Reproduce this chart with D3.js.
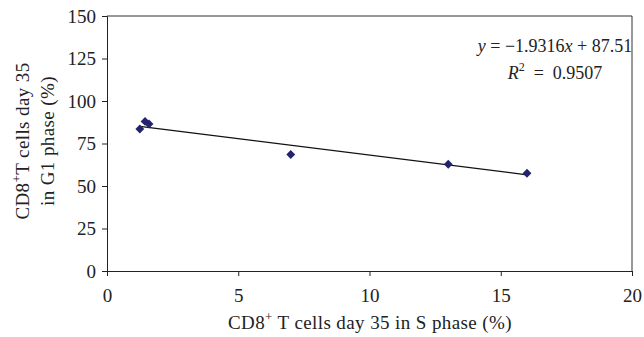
<!DOCTYPE html>
<html>
<head>
<meta charset="utf-8">
<script src="https://cdn.jsdelivr.net/npm/d3@7/dist/d3.min.js"></script>
<style>
  html, body { margin: 0; padding: 0; background: #fff; }
  svg { display: block; }
  text { font-family: "Liberation Serif", "DejaVu Serif", serif; fill: #222; }
</style>
</head>
<body>
<svg id="chart" width="644" height="337"></svg>
<script>
// S-phase share (x) and G1-phase share (y) of CD8+ T cells at day 35
const sPhase = [1.25, 1.45, 1.6, 7, 13, 16];
const g1Phase = [83.5, 88, 86.5, 68.5, 62.8, 57.5];
const xTicks = [0, 5, 10, 15, 20];
const yTicks = [0, 25, 50, 75, 100, 125, 150];
// Linear trend: y = slope * x + intercept
const slope = -1.9316;
const intercept = 87.51;
const rSquared = 0.9507;

const svg = d3.select("#chart");
const plot = { left: 107, right: 632, top: 16, bottom: 271 };
const fs = "19px";

const x = d3.scaleLinear().domain([0, 20]).range([plot.left, plot.right]);
const y = d3.scaleLinear().domain([0, 150]).range([plot.bottom, plot.top]);

// plot frame (top and right edges)
svg.append("path")
  .attr("d", `M${plot.left},${plot.top}H${plot.right}V${plot.bottom}`)
  .attr("fill", "none").attr("stroke", "#333").attr("stroke-width", 1);

const xAxis = svg.append("g").attr("transform", `translate(0,${plot.bottom})`)
  .call(d3.axisBottom(x).tickValues(xTicks).tickSize(5).tickPadding(13));
const yAxis = svg.append("g").attr("transform", `translate(${plot.left},0)`)
  .call(d3.axisLeft(y).tickValues(yTicks).tickSize(5).tickPadding(6));

[xAxis, yAxis].forEach(g => {
  g.selectAll("path, line").attr("stroke", "#222").attr("stroke-width", 1);
  g.selectAll("text").style("font-family", '"Liberation Serif", serif')
    .style("font-size", fs).attr("fill", "#222");
});

// trend line over the data range
const xMin = d3.min(sPhase), xMax = d3.max(sPhase);
svg.append("line")
  .attr("x1", x(xMin)).attr("y1", y(slope * xMin + intercept))
  .attr("x2", x(xMax)).attr("y2", y(slope * xMax + intercept))
  .attr("stroke", "#111").attr("stroke-width", 1.3);

// diamond markers
svg.append("g").selectAll("path")
  .data(sPhase.map((v, i) => [v, g1Phase[i]]))
  .join("path")
  .attr("transform", d => `translate(${x(d[0])},${y(d[1])})`)
  .attr("d", d3.symbol(d3.symbolDiamond2, 50))
  .attr("fill", "#23236e");

// regression annotation
const eqSize = "18px";
const eq = svg.append("text").attr("x", 555).attr("y", 52)
  .attr("text-anchor", "middle").style("font-size", eqSize);
eq.append("tspan").attr("font-style", "italic").text("y");
eq.append("tspan").text(" = \u22121.9316");
eq.append("tspan").attr("font-style", "italic").text("x");
eq.append("tspan").text(" + " + intercept.toFixed(2));

const r2 = svg.append("text").attr("x", 555).attr("y", 79)
  .attr("text-anchor", "middle").style("font-size", eqSize);
r2.append("tspan").attr("font-style", "italic").text("R");
r2.append("tspan").attr("dy", -8).style("font-size", "12px").text("2");
r2.append("tspan").attr("dy", 8).text("\u2002=\u2002" + rSquared.toFixed(4));

// x axis title
const xt = svg.append("text").attr("x", 370).attr("y", 329)
  .attr("text-anchor", "middle").style("font-size", fs)
  .style("letter-spacing", "0.4px");
xt.append("tspan").text("CD8");
xt.append("tspan").attr("dy", -8).style("font-size", "13px").text("+");
xt.append("tspan").attr("dy", 8).text(" T cells day 35 in S phase (%)");

// y axis title (two lines)
const yt = svg.append("text")
  .attr("transform", "translate(0,141) rotate(-90)")
  .attr("text-anchor", "middle").style("font-size", fs)
  .style("letter-spacing", "0.4px");
yt.append("tspan").attr("x", 0).attr("y", 29).text("CD8");
yt.append("tspan").attr("dy", -8).style("font-size", "13px").text("+");
yt.append("tspan").attr("dy", 8).text("T cells day 35");
yt.append("tspan").attr("x", 0).attr("y", 54).text("in G1 phase (%)");
</script>
</body>
</html>
